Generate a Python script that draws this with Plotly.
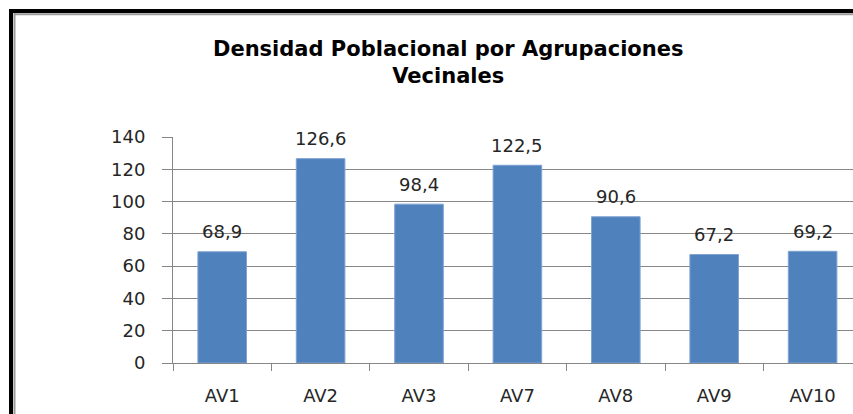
import plotly.graph_objects as go

categories = ["AV1", "AV2", "AV3", "AV7", "AV8", "AV9", "AV10"]
densidad = [68.9, 126.6, 98.4, 122.5, 90.6, 67.2, 69.2]
y_ticks = [0, 20, 40, 60, 80, 100, 120, 140]
title_lines = ["Densidad Poblacional por Agrupaciones", "Vecinales"]

W, H = 853, 414
ML, MR, MT, MB = 173, 0, 137, 51
PW, PH = W - ML - MR, H - MT - MB

def px_x(p):
    return (p - ML) / PW

def px_y(p):
    return (H - MB - p) / PH

fig = go.Figure()
fig.add_trace(go.Bar(
    x=categories, y=densidad, width=0.494,
    marker=dict(color="#4F81BD", line=dict(color="#7FA3D2", width=1)),
    hoverinfo="skip",
))

for c, v in zip(categories, densidad):
    fig.add_annotation(
        x=c, y=v, text=f"{v:.1f}".replace(".", ","), showarrow=False,
        yanchor="middle", yshift=20,
        font=dict(family="DejaVu Sans", size=18, color="#262626"),
    )

fig.add_annotation(
    xref="paper", yref="paper", x=px_x(448), y=px_y(62), xanchor="center", yanchor="middle",
    text="<b>" + "<br>".join(title_lines) + "</b>", showarrow=False,
    font=dict(family="DejaVu Sans", size=21, color="#000000"),
)

# outer frame (black + gray inner line), top and left
shapes = [
    dict(type="line", xref="paper", yref="paper", x0=px_x(9), x1=px_x(853), y0=px_y(11), y1=px_y(11),
         line=dict(color="#000000", width=4)),
    dict(type="line", xref="paper", yref="paper", x0=px_x(14), x1=px_x(853), y0=px_y(14.3), y1=px_y(14.3),
         line=dict(color="#9A9A9A", width=2)),
    dict(type="line", xref="paper", yref="paper", x0=px_x(11), x1=px_x(11), y0=px_y(9), y1=px_y(414),
         line=dict(color="#000000", width=4)),
    dict(type="line", xref="paper", yref="paper", x0=px_x(14.5), x1=px_x(14.5), y0=px_y(13), y1=px_y(414),
         line=dict(color="#9A9A9A", width=2)),
]

fig.update_layout(
    width=W, height=H,
    margin=dict(l=ML, r=MR, t=MT, b=MB, pad=0),
    paper_bgcolor="white", plot_bgcolor="white",
    showlegend=False, shapes=shapes,
    bargap=0.5,
    xaxis=dict(
        range=[-0.5, -0.5 + PW / 98.4], tickson="boundaries", ticks="outside", ticklen=7,
        tickcolor="#878787", showline=True, linecolor="#878787", linewidth=1,
        showgrid=False, tickfont=dict(family="DejaVu Sans", size=18, color="#262626"),
        ticklabelstandoff=16, fixedrange=True,
    ),
    yaxis=dict(
        range=[0, 140], tickvals=y_ticks, ticks="outside", ticklen=10, tickcolor="#878787",
        showline=True, linecolor="#878787", linewidth=1, showgrid=True, gridcolor="#878787",
        gridwidth=1, zeroline=False, tickfont=dict(family="DejaVu Sans", size=18, color="#262626"),
        ticklabelstandoff=13, fixedrange=True,
    ),
)

fig.write_html(
    "out.html",
    config={"displayModeBar": False},
    post_script="document.body.style.margin='0';document.body.style.overflow='hidden';",
)
